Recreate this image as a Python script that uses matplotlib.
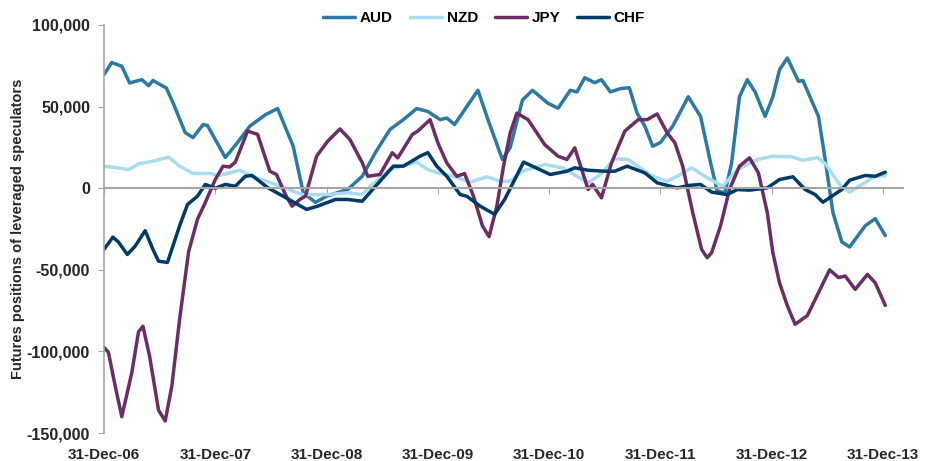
import numpy as np
import matplotlib
matplotlib.use("Agg")
import matplotlib.pyplot as plt

plt.rcParams['font.family'] = ['Liberation Sans', 'DejaVu Sans']

# time as decimal years (2007.0 = 31-Dec-06), values in thousands of contracts
aud_t = [2007.00, 2007.07, 2007.16, 2007.23, 2007.34, 2007.40, 2007.44, 2007.56, 2007.62, 2007.73,
         2007.80, 2007.89, 2007.93, 2008.09, 2008.20, 2008.31, 2008.45, 2008.56, 2008.70, 2008.79,
         2008.90, 2009.00, 2009.19, 2009.32, 2009.44, 2009.57, 2009.69, 2009.81, 2009.91, 2010.02,
         2010.08, 2010.15, 2010.26, 2010.36, 2010.45, 2010.58, 2010.65, 2010.76, 2010.85, 2010.99,
         2011.08, 2011.19, 2011.25, 2011.32, 2011.41, 2011.47, 2011.55, 2011.64, 2011.72, 2011.79,
         2011.86, 2011.93, 2012.00, 2012.11, 2012.25, 2012.36, 2012.45, 2012.51, 2012.58, 2012.64,
         2012.71, 2012.78, 2012.85, 2012.94, 2013.01, 2013.07, 2013.14, 2013.24, 2013.28, 2013.42,
         2013.48, 2013.55, 2013.63, 2013.70, 2013.84, 2013.93, 2014.02]
aud_v = [69.6, 77, 74.7, 64.5, 66.5, 62.8, 66, 61.4, 52.4, 34,
         31, 39, 38.4, 18.8, 28, 38, 45, 48.8, 25.7, -2.7,
         -8.7, -4.9, -0.8, 7.3, 22, 36, 42, 48.8, 47, 42,
         43, 39, 50, 60, 42, 17.6, 25, 54, 60, 52,
         49, 60, 59, 67.7, 64.6, 66.5, 59, 61, 61.6, 46,
         38, 25.7, 28, 38, 56, 44, 15.7, -1.8, -2.7, 15.7,
         56, 66.5, 59, 44, 56, 72.6, 79.8, 65.5, 66, 44,
         17.6, -15, -33, -36, -23, -18.7, -29]

nzd_t = [2007.00, 2007.12, 2007.22, 2007.32, 2007.44, 2007.58, 2007.68, 2007.80, 2007.95, 2008.04,
         2008.22, 2008.33, 2008.54, 2008.78, 2009.01, 2009.19, 2009.32, 2009.39, 2009.57, 2009.81,
         2009.91, 2010.02, 2010.14, 2010.29, 2010.44, 2010.56, 2010.65, 2010.76, 2010.96, 2011.12,
         2011.35, 2011.46, 2011.59, 2011.71, 2011.86, 2011.93, 2012.06, 2012.15, 2012.28, 2012.42,
         2012.56, 2012.69, 2012.87, 2013.01, 2013.18, 2013.28, 2013.41, 2013.48, 2013.61, 2013.70,
         2013.81, 2013.93, 2014.02]
nzd_v = [13.5, 12.5, 11.4, 15.1, 16.5, 19, 13.5, 9, 9, 7.8,
         11, 7.3, 2.3, -3.9, -3.9, -2.8, -3.9, 1, 11.4, 16,
         11.4, 9, 7.3, 3.7, 7, 4.3, 4.3, 10.4, 14.5, 12.5,
         3.3, 8.4, 18, 17.6, 10.5, 7.3, 4.3, 7.3, 12.5, 6.4,
         1.2, 11.4, 17.6, 19.6, 19.2, 17.1, 18.8, 15.1, 2.3, -2.4,
         2.3, 7.3, 7.8]

jpy_t = [2007.00, 2007.04, 2007.10, 2007.16, 2007.25, 2007.31, 2007.35, 2007.41, 2007.49, 2007.55,
         2007.61, 2007.68, 2007.76, 2007.84, 2007.91, 2008.00, 2008.07, 2008.13, 2008.18, 2008.29,
         2008.38, 2008.49, 2008.55, 2008.63, 2008.69, 2008.76, 2008.81, 2008.91, 2009.01, 2009.12,
         2009.21, 2009.32, 2009.37, 2009.48, 2009.59, 2009.64, 2009.77, 2009.82, 2009.93, 2010.00,
         2010.08, 2010.17, 2010.24, 2010.32, 2010.40, 2010.46, 2010.53, 2010.59, 2010.65, 2010.71,
         2010.81, 2010.96, 2011.08, 2011.16, 2011.23, 2011.35, 2011.39, 2011.47, 2011.56, 2011.68,
         2011.80, 2011.88, 2011.97, 2012.06, 2012.13, 2012.20, 2012.29, 2012.37, 2012.42, 2012.46,
         2012.54, 2012.62, 2012.71, 2012.80, 2012.88, 2012.96, 2013.01, 2013.07, 2013.14, 2013.21,
         2013.32, 2013.42, 2013.52, 2013.60, 2013.66, 2013.75, 2013.86, 2013.93, 2014.02]
jpy_v = [-97.5, -100.6, -121, -140, -113, -88, -84.6, -103, -136, -142.6,
         -121, -80, -39, -19, -8.8, 5.3, 13.5, 13, 16, 35,
         33, 10.4, 8.4, -3.9, -11, -6.9, -4.9, 19.6, 28.8, 36.3,
         29.8, 15.7, 7.3, 8.4, 21.7, 18.6, 32.9, 35, 42, 27.8,
         15.5, 7.3, 9, -4.9, -23, -29.7, -11, 13.5, 33.9, 46,
         42, 26.7, 19.6, 17.6, 24.7, -0.8, 2.3, -5.9, 15.5, 35,
         42, 42, 45.5, 33.9, 27.8, 13.5, -15, -37.5, -42.6, -39.5,
         -23, -0.8, 13.5, 18.6, 9.4, -15, -39.5, -58, -72, -83.4,
         -78, -64, -50, -54.8, -53.8, -62, -52.8, -58, -71.8]

chf_t = [2007.00, 2007.08, 2007.13, 2007.21, 2007.28, 2007.37, 2007.44, 2007.49, 2007.57, 2007.68,
         2007.75, 2007.84, 2007.91, 2008.00, 2008.09, 2008.18, 2008.27, 2008.33, 2008.47, 2008.63,
         2008.82, 2008.92, 2009.08, 2009.19, 2009.32, 2009.39, 2009.60, 2009.69, 2009.84, 2009.91,
         2009.99, 2010.08, 2010.20, 2010.26, 2010.38, 2010.51, 2010.60, 2010.77, 2010.85, 2011.01,
         2011.16, 2011.23, 2011.35, 2011.50, 2011.59, 2011.70, 2011.86, 2011.97, 2012.15, 2012.27,
         2012.36, 2012.46, 2012.60, 2012.69, 2012.80, 2012.96, 2013.07, 2013.19, 2013.30, 2013.39,
         2013.46, 2013.54, 2013.63, 2013.70, 2013.84, 2013.93, 2014.02]
chf_v = [-37.5, -30, -33, -40.6, -35.5, -26, -37.5, -44.7, -45.5, -23,
         -10, -4.9, 2.3, 0, 2.3, 1.2, 7.3, 7.8, 0.4, -5.7,
         -13, -11, -6.9, -6.9, -8, -2.6, 13.5, 13.5, 19.6, 21.8,
         13.5, 7.3, -3.9, -4.9, -11, -16, -6.9, 16, 13.5, 8.4,
         10.4, 12.5, 11, 10.4, 10.4, 13.5, 9.4, 3.3, 0.2, 1.8,
         2.3, -2.4, -3.9, -0.8, -1.2, 0.2, 5.3, 7, -0.8, -3.9,
         -8.6, -4.9, -0.8, 4.9, 7.8, 7.3, 9.8]

tick_years = [2007, 2008, 2009, 2010, 2011, 2012, 2013, 2014]
tick_labels = ['31-Dec-06', '31-Dec-07', '31-Dec-08', '31-Dec-09',
               '31-Dec-10', '31-Dec-11', '31-Dec-12', '31-Dec-13']

series = [
    ('AUD', aud_t, aud_v, '#2A7AA3'),
    ('NZD', nzd_t, nzd_v, '#A9DCF0'),
    ('JPY', jpy_t, jpy_v, '#6B2D63'),
    ('CHF', chf_t, chf_v, '#003A66'),
]

fig = plt.figure(figsize=(9.31, 4.61), dpi=100)
ax = fig.add_axes([0.1117, 0.0607, 0.8583, 0.8851])

for name, t, v, col in series:
    ax.plot(t, np.array(v) * 1000, color=col, lw=2.5, label=name,
            solid_joinstyle='round', solid_capstyle='round')

ax.set_xlim(2007, 2014.18)
ax.set_ylim(-150000, 100000)
ax.set_yticks([-150000, -100000, -50000, 0, 50000, 100000])
ax.set_yticklabels(['-150,000', '-100,000', '-50,000', '0', '50,000', '100,000'])

grey = '#A6A6A6'
for s in ['top', 'right']:
    ax.spines[s].set_visible(False)
ax.spines['left'].set_color(grey)
ax.spines['left'].set_linewidth(1.2)
ax.spines['bottom'].set_position(('data', 0))
ax.spines['bottom'].set_color(grey)
ax.spines['bottom'].set_linewidth(1.5)
ax.set_xticks(tick_years)
ax.tick_params(axis='x', labelbottom=False, length=4, color=grey, direction='out')
ax.tick_params(axis='y', length=4, color=grey, pad=6, labelsize=11.5)
for lab in ax.get_yticklabels():
    lab.set_fontweight('bold')
    lab.set_color('#262626')

sec = ax.secondary_xaxis('bottom')
sec.set_xticks(tick_years)
sec.set_xticklabels(tick_labels, fontsize=11, fontweight='bold', color='#262626')
sec.tick_params(length=0, pad=11)
sec.spines['bottom'].set_visible(False)

ax.set_ylabel('Futures positions of leveraged speculators', fontsize=10.5,
              fontweight='bold', color='#262626')
ax.yaxis.set_label_coords(-0.099, 0.5)

fig.legend(loc='upper center', bbox_to_anchor=(0.52, 1.005), ncol=4, frameon=False,
           prop={'weight': 'bold', 'size': 11}, handlelength=2.1, handletextpad=0.3,
           columnspacing=1.1)

fig.savefig('out.png', dpi=100)
